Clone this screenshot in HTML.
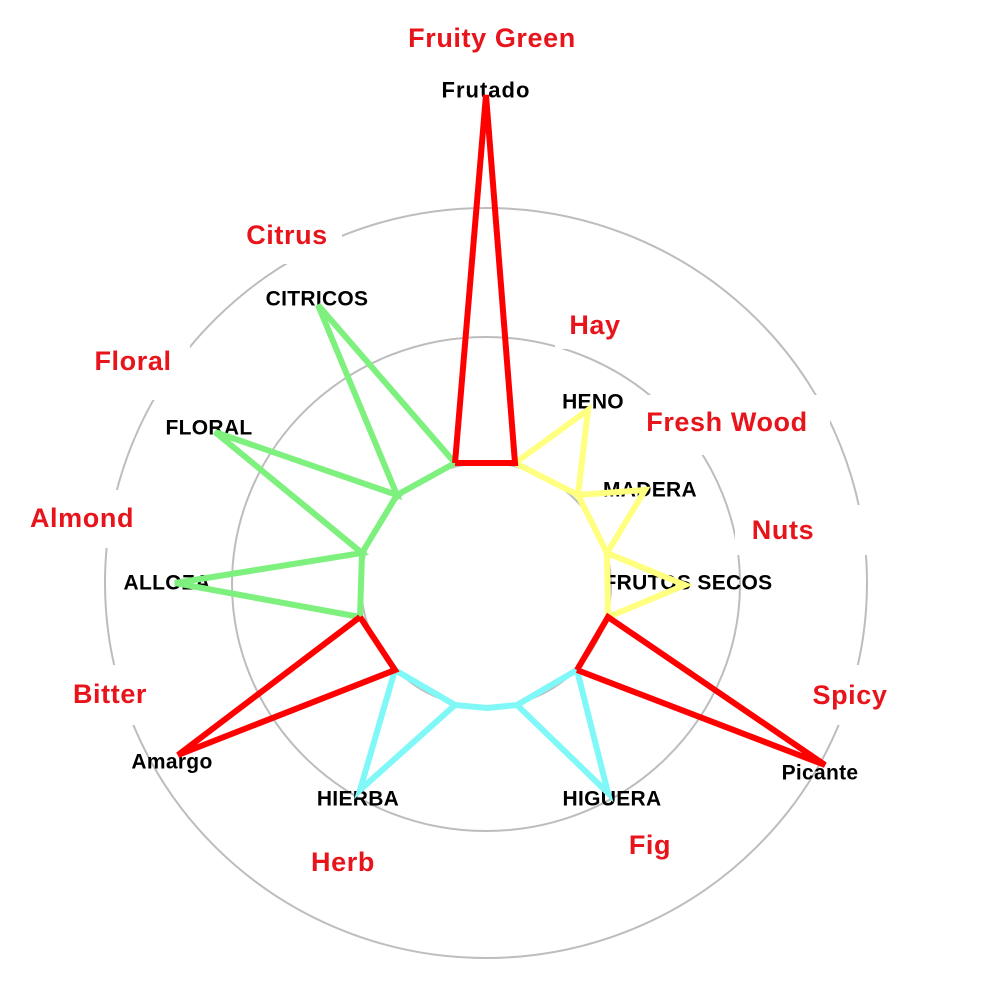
<!DOCTYPE html>
<html><head><style>
html,body{margin:0;padding:0;background:#fff;}
svg{display:block;}
.r{font-family:"Liberation Sans",Arial,sans-serif;font-weight:bold;font-size:27px;letter-spacing:0.6px;fill:#e8141c;text-anchor:middle;dominant-baseline:central;}
.b{font-family:"Liberation Sans",Arial,sans-serif;font-weight:bold;font-size:21px;letter-spacing:0.3px;fill:#000;text-anchor:middle;dominant-baseline:central;}
</style></head><body>
<svg width="1000" height="1000" viewBox="0 0 1000 1000" xmlns="http://www.w3.org/2000/svg">
<g fill="none" stroke="#bdbdbd" stroke-width="2">
<ellipse cx="486" cy="583" rx="381" ry="375"/>
<ellipse cx="486" cy="584" rx="254" ry="247"/>
<ellipse cx="486" cy="585" rx="125" ry="122"/>
</g>
<g fill="#fff">
<rect x="395" y="15" width="195" height="48"/>
<rect x="232" y="208" width="110" height="56"/>
<rect x="555" y="303" width="80" height="46"/>
<rect x="630" y="395" width="200" height="60"/>
<rect x="735" y="505" width="140" height="50"/>
<rect x="80" y="335" width="110" height="65"/>
<rect x="15" y="490" width="135" height="58"/>
<rect x="55" y="665" width="110" height="60"/>
<rect x="795" y="665" width="105" height="60"/>
<rect x="300" y="838" width="88" height="48"/>
<rect x="620" y="822" width="62" height="48"/>
</g>
<text class="r" x="492" y="38">Fruity Green</text>
<text class="r" x="287" y="235">Citrus</text>
<text class="r" x="595" y="325">Hay</text>
<text class="r" x="727" y="422">Fresh Wood</text>
<text class="r" x="783" y="530">Nuts</text>
<text class="r" x="133" y="361">Floral</text>
<text class="r" x="82" y="518">Almond</text>
<text class="r" x="110" y="694">Bitter</text>
<text class="r" x="850" y="695">Spicy</text>
<text class="r" x="343" y="862">Herb</text>
<text class="r" x="650" y="845">Fig</text>

<text class="b" x="486" y="90" style="font-size:22px;letter-spacing:1px">Frutado</text>
<text class="b" x="317" y="299">CITRICOS</text>
<text class="b" x="593" y="402">HENO</text>
<text class="b" x="650" y="490">MADERA</text>
<text class="b" x="688" y="583">FRUTOS SECOS</text>
<text class="b" x="209" y="428">FLORAL</text>
<text class="b" x="167" y="583">ALLOZA</text>
<text class="b" x="172" y="762">Amargo</text>
<text class="b" x="820" y="773">Picante</text>
<text class="b" x="358" y="799">HIERBA</text>
<text class="b" x="612" y="799">HIGUERA</text>

<g fill="none" stroke-width="6" stroke-linejoin="miter">
<polyline stroke="#7ef07e" points="455,463 318,305 397,495 215,432 362,553 175,583 360,617"/>
<polyline stroke="#7ef07e" points="455,463 397,495 362,553 360,617"/>
<polyline stroke="#ffff80" points="515,463 588,410 578,495 645,490 607,553 685,585 608,617"/>
<polyline stroke="#ffff80" points="515,463 578,495 607,553 608,617"/>
<polyline stroke="#80f8f8" points="395,670 360,790 455,705 487,708 517,705 608,793 577,670"/>
<polyline stroke="#80f8f8" points="395,670 455,705"/>
<polyline stroke="#80f8f8" points="517,705 577,670"/>
<polyline stroke="#f00" points="455,463 486,95 515,463 455,463"/>
<polyline stroke="#f00" points="360,617 178,755 395,670 360,617"/>
<polyline stroke="#f00" points="577,670 825,765 608,617 577,670"/>
</g>
</svg>
</body></html>
